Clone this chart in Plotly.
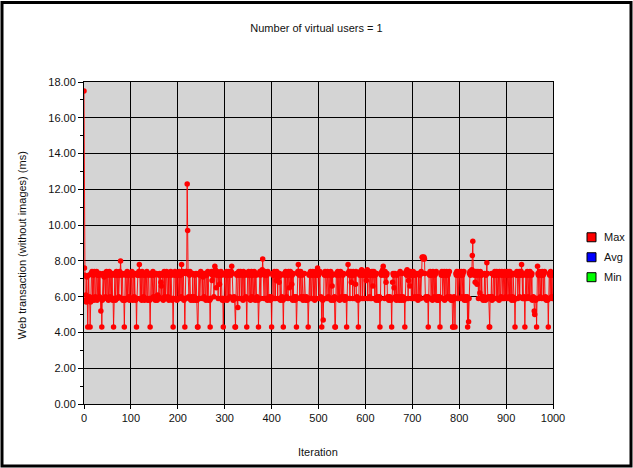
import plotly.graph_objects as go

# Web transaction time per iteration (ms), one virtual user
max_ms = [
    17.5, 7.6, 7.2, 5.8, 6.1, 5.7, 7.1, 5.9, 4.3, 5.8, 7.2, 5.9, 6.0, 4.3, 5.7, 7.3, 7.3, 7.4, 5.9, 7.3, 7.2, 5.8, 7.4, 7.3, 6.0,
    5.9, 7.3, 7.4, 5.8, 7.2, 7.3, 5.9, 7.2, 6.0, 7.3, 5.9, 5.2, 5.9, 4.3, 5.8, 7.2, 7.3, 5.9, 7.1, 7.3, 7.2, 6.0, 7.3, 7.4, 5.9,
    7.3, 7.2, 5.8, 7.3, 7.4, 5.9, 6.0, 7.3, 7.2, 5.9, 7.3, 5.8, 5.9, 4.3, 5.9, 7.2, 7.3, 5.8, 7.3, 7.4, 7.2, 5.9, 7.3, 7.3, 6.0,
    7.2, 7.4, 7.3, 8.0, 7.3, 5.9, 7.2, 7.3, 5.8, 5.9, 5.8, 4.3, 5.8, 7.3, 7.2, 5.9, 7.3, 7.4, 5.9, 7.2, 7.3, 6.0, 5.8, 7.3, 7.2,
    5.9, 7.3, 7.4, 5.9, 5.8, 7.2, 7.3, 6.0, 7.3, 5.9, 5.8, 5.9, 4.3, 5.9, 7.2, 7.3, 7.2, 7.4, 7.8, 7.3, 5.9, 7.2, 7.3, 5.8, 7.4,
    7.3, 5.9, 6.0, 7.2, 5.8, 7.3, 7.2, 5.9, 7.3, 7.4, 5.9, 5.8, 7.3, 7.2, 5.9, 5.8, 4.3, 5.9, 7.3, 7.2, 5.9, 7.3, 7.4, 6.0, 7.2,
    7.3, 5.9, 5.8, 6.0, 7.3, 5.9, 5.8, 6.1, 5.9, 6.0, 7.2, 7.3, 5.9, 7.2, 6.8, 6.6, 5.9, 7.3, 7.2, 5.8, 7.3, 7.4, 6.0, 7.3, 5.9,
    7.2, 7.4, 7.3, 5.9, 6.0, 7.2, 5.8, 7.3, 7.3, 5.9, 7.4, 7.2, 5.9, 5.8, 5.9, 4.3, 5.9, 7.3, 7.2, 7.4, 5.9, 7.3, 7.2, 5.8, 7.3,
    7.3, 5.9, 7.2, 7.4, 5.9, 7.3, 7.2, 6.0, 7.8, 7.3, 5.9, 7.4, 7.3, 5.8, 5.9, 4.3, 5.9, 7.4, 7.3, 7.4, 12.3, 9.7, 7.3, 6.0, 5.9,
    7.2, 7.4, 5.9, 5.8, 5.9, 6.0, 5.9, 7.3, 5.8, 5.9, 6.0, 7.2, 5.9, 5.8, 7.3, 5.9, 5.8, 4.3, 4.3, 5.9, 7.3, 7.2, 5.9, 7.3, 7.4,
    7.3, 7.2, 5.9, 7.3, 7.1, 5.9, 6.0, 7.2, 7.3, 5.9, 5.8, 7.3, 7.2, 5.9, 7.4, 7.3, 5.8, 5.9, 5.8, 4.3, 5.9, 7.3, 7.4, 6.9, 7.2,
    7.3, 7.4, 6.0, 7.3, 7.7, 7.5, 7.3, 6.5, 7.2, 7.4, 7.3, 5.9, 7.3, 7.2, 6.7, 7.3, 5.9, 7.4, 7.2, 5.9, 5.8, 5.9, 4.3, 5.8, 5.9,
    7.3, 7.2, 5.9, 7.3, 7.4, 5.8, 7.3, 7.2, 5.9, 7.4, 7.3, 6.0, 7.3, 7.2, 7.4, 7.7, 7.3, 5.9, 5.8, 5.9, 6.0, 5.9, 4.3, 4.3, 5.9,
    7.3, 7.2, 5.9, 5.4, 7.3, 7.4, 7.2, 5.9, 7.3, 7.4, 7.3, 5.9, 7.2, 7.3, 5.8, 7.4, 7.3, 5.9, 7.2, 5.9, 6.0, 5.9, 4.3, 5.9, 7.3,
    7.2, 7.4, 5.9, 7.3, 7.3, 5.8, 7.2, 7.4, 6.0, 7.3, 7.2, 5.9, 7.3, 7.4, 5.9, 5.8, 7.3, 7.2, 5.9, 6.0, 5.9, 5.8, 4.3, 5.9, 7.3,
    7.4, 7.2, 5.9, 7.3, 7.4, 7.5, 8.1, 7.4, 7.3, 5.9, 7.2, 7.4, 7.3, 5.9, 7.3, 7.2, 5.8, 7.4, 7.3, 5.9, 6.0, 5.9, 5.8, 5.9, 6.0,
    4.3, 5.9, 7.3, 7.2, 7.3, 5.9, 7.4, 7.3, 5.9, 7.2, 6.9, 7.4, 7.3, 5.9, 7.2, 7.1, 6.8, 7.3, 5.9, 5.8, 7.2, 5.9, 6.0, 5.9, 5.8,
    4.3, 5.9, 7.3, 7.2, 5.9, 7.4, 7.3, 6.0, 7.2, 7.3, 5.9, 7.4, 7.2, 6.5, 7.3, 7.4, 5.9, 7.3, 6.7, 7.2, 5.8, 7.3, 5.9, 6.0, 5.9,
    5.8, 5.9, 6.0, 4.3, 5.9, 7.3, 7.4, 7.8, 7.3, 7.2, 5.9, 7.3, 7.4, 6.0, 5.9, 7.2, 5.9, 5.8, 6.0, 5.9, 7.3, 5.9, 5.9, 5.8, 6.0,
    5.9, 5.8, 5.9, 4.3, 5.9, 7.2, 7.3, 5.9, 7.4, 7.3, 5.9, 7.2, 7.3, 7.4, 5.9, 7.3, 7.2, 5.8, 7.3, 7.4, 5.9, 7.2, 7.3, 7.6, 7.3,
    7.2, 5.9, 7.3, 7.4, 5.9, 6.0, 5.9, 4.3, 5.9, 5.8, 4.7, 5.9, 7.3, 7.2, 7.4, 7.3, 5.9, 7.2, 7.3, 7.4, 5.9, 6.0, 7.3, 7.2, 5.9,
    7.3, 7.4, 5.8, 7.3, 6.6, 7.2, 5.9, 5.8, 5.9, 6.0, 4.3, 4.3, 5.9, 7.3, 7.2, 5.9, 7.4, 7.3, 5.9, 7.2, 5.8, 7.3, 7.4, 5.9, 6.0,
    7.3, 5.9, 7.2, 7.3, 5.9, 6.0, 5.8, 5.9, 6.0, 5.9, 4.3, 5.9, 7.3, 7.8, 7.3, 7.4, 7.2, 5.9, 7.3, 7.4, 6.8, 7.2, 7.3, 5.9, 7.4,
    7.3, 7.2, 5.9, 7.3, 6.7, 7.4, 5.9, 6.0, 5.9, 5.8, 4.3, 5.9, 7.3, 7.2, 7.4, 5.9, 7.3, 7.5, 7.2, 5.9, 7.4, 7.3, 7.2, 5.9, 7.3,
    7.4, 7.2, 6.9, 7.3, 7.5, 5.9, 7.3, 7.2, 7.4, 6.0, 5.9, 7.3, 7.2, 5.9, 7.4, 7.3, 6.6, 7.2, 7.4, 7.3, 5.9, 7.2, 7.3, 5.8, 7.3,
    5.9, 6.0, 5.9, 5.8, 5.9, 6.0, 4.3, 5.9, 7.3, 7.2, 7.4, 7.3, 7.5, 7.7, 7.3, 7.2, 5.9, 7.4, 7.3, 6.8, 7.2, 7.3, 5.9, 6.0, 5.9,
    5.8, 5.9, 6.0, 5.9, 5.8, 5.9, 4.3, 5.9, 6.8, 7.3, 7.2, 6.5, 5.9, 7.3, 6.0, 5.9, 5.8, 7.2, 5.9, 6.0, 5.9, 7.3, 5.8, 5.9, 7.4,
    6.0, 5.9, 5.8, 7.3, 5.9, 6.0, 5.9, 5.8, 5.9, 4.3, 5.9, 7.3, 7.4, 7.2, 7.5, 7.3, 5.9, 6.9, 7.3, 7.2, 6.6, 7.4, 7.3, 5.9, 7.2,
    7.3, 5.9, 7.4, 7.2, 5.9, 6.0, 7.3, 7.2, 5.9, 7.3, 6.0, 5.9, 5.8, 7.3, 5.9, 6.0, 7.2, 7.3, 5.9, 7.4, 7.3, 8.2, 8.2, 8.1, 8.2,
    8.2, 8.1, 7.3, 5.9, 6.0, 5.9, 5.8, 5.9, 6.0, 4.3, 5.9, 7.3, 7.2, 7.4, 7.3, 5.9, 7.2, 7.3, 5.8, 7.4, 7.3, 5.9, 6.0, 7.2, 5.9,
    7.3, 7.4, 5.9, 5.8, 6.0, 5.9, 5.8, 5.9, 6.0, 4.3, 5.9, 7.3, 7.2, 7.4, 7.3, 5.9, 7.2, 7.3, 7.4, 5.8, 7.3, 7.2, 5.9, 7.4, 7.3,
    6.0, 7.2, 7.3, 5.9, 7.4, 5.9, 6.0, 5.9, 5.8, 5.9, 5.8, 4.3, 4.3, 5.9, 6.0, 5.9, 4.3, 5.9, 7.3, 7.2, 7.4, 5.9, 7.3, 7.2, 5.9,
    7.3, 7.4, 7.2, 5.9, 7.3, 7.4, 6.0, 7.2, 7.3, 5.9, 7.4, 5.8, 5.9, 6.0, 5.9, 5.8, 5.9, 6.0, 4.3, 5.9, 4.6, 5.9, 7.3, 7.4, 7.2,
    7.4, 7.3, 7.5, 8.3, 9.1, 7.4, 7.3, 7.2, 7.4, 6.8, 7.3, 7.4, 7.2, 6.7, 7.3, 7.4, 5.9, 7.3, 7.2, 6.2, 7.4, 7.3, 5.9, 7.2, 6.0,
    5.9, 5.8, 6.0, 5.9, 7.3, 5.9, 5.8, 7.2, 7.3, 7.9, 7.3, 5.9, 6.0, 5.9, 4.3, 4.3, 5.9, 6.0, 5.9, 7.3, 5.8, 6.0, 5.9, 7.2, 7.3,
    5.9, 7.4, 7.3, 7.2, 5.9, 7.4, 7.3, 5.9, 7.2, 7.3, 5.8, 7.4, 7.3, 5.9, 6.0, 7.2, 7.4, 7.3, 5.9, 7.2, 7.3, 5.9, 7.4, 7.3, 6.0,
    7.2, 5.9, 7.3, 7.4, 5.9, 7.2, 7.3, 6.0, 7.4, 7.3, 5.9, 7.2, 5.8, 5.9, 6.0, 7.3, 5.9, 5.8, 5.9, 4.3, 5.9, 7.3, 7.2, 7.4, 7.3,
    5.9, 7.2, 7.3, 7.4, 6.0, 7.3, 7.2, 7.4, 7.8, 7.3, 5.9, 7.2, 5.9, 6.0, 5.9, 4.3, 5.9, 7.3, 7.2, 5.9, 7.4, 7.3, 6.0, 7.2, 7.3,
    5.9, 7.4, 7.3, 5.9, 7.2, 7.3, 5.8, 5.9, 6.0, 5.9, 5.2, 5.0, 5.9, 5.8, 5.9, 4.3, 5.9, 7.7, 7.3, 7.2, 5.9, 7.4, 7.3, 6.0, 7.2,
    7.3, 5.9, 7.4, 7.3, 7.2, 5.9, 7.3, 7.4, 5.9, 6.0, 5.9, 5.8, 5.9, 5.8, 5.9, 4.3, 5.9, 7.3, 7.2, 5.9, 7.4, 7.3, 6.0, 7.2, 5.9,
]
# With a single virtual user, average and minimum coincide with the maximum,
# so only the Max series is visible; Avg and Min appear in the key.
iterations = list(range(len(max_ms)))

series_names = ["Max", "Avg", "Min"]
series_colors = {"Max": "#FF0000", "Avg": "#0000FF", "Min": "#00FF00"}

y_ticks = [0, 2, 4, 6, 8, 10, 12, 14, 16, 18]
x_ticks = [0, 100, 200, 300, 400, 500, 600, 700, 800, 900, 1000]

FONT = "Liberation Sans, Arial, sans-serif"
TXT = "#111111"

fig = go.Figure()

fig.add_trace(go.Scatter(
    x=iterations, y=max_ms, mode="lines+markers",
    line=dict(color=series_colors["Max"], width=0.9),
    marker=dict(color=series_colors["Max"], size=5.5),
    showlegend=False, name="Max",
))

L, R, T, B = 84, 80, 81.5, 64
W, H = 633, 468
pw, ph = W - L - R, H - T - B


def px_x(p):
    return (p - L) / pw


def px_y(p):
    return (H - B - p) / ph


shapes = [dict(type="rect", xref="paper", yref="paper",
               x0=px_x(2), x1=px_x(631), y0=px_y(466), y1=px_y(2),
               line=dict(color="black", width=3), fillcolor="rgba(0,0,0,0)",
               layer="above")]

annotations = [
    dict(text="Iteration", xref="paper", yref="paper", x=px_x(318), y=px_y(452),
         xanchor="center", yanchor="middle", showarrow=False,
         font=dict(size=11, family=FONT, color=TXT)),
    dict(text="Web transaction (without images) (ms)", xref="paper", yref="paper",
         x=px_x(22), y=px_y(245), xanchor="center", yanchor="middle",
         textangle=-90, showarrow=False,
         font=dict(size=11, family=FONT, color=TXT)),
]

# key on the right: outlined colour boxes with series names
for i, name in enumerate(series_names):
    cy = 237 + 20 * i
    shapes.append(dict(type="rect", xref="paper", yref="paper",
                       x0=px_x(587), x1=px_x(596), y0=px_y(cy + 4.5), y1=px_y(cy - 4.5),
                       line=dict(color="black", width=1),
                       fillcolor=series_colors[name], layer="above"))
    annotations.append(dict(text=name, xref="paper", yref="paper",
                            x=px_x(602), y=px_y(cy), xanchor="left", yanchor="middle",
                            showarrow=False,
                            font=dict(size=11, family=FONT, color=TXT)))

fig.update_layout(
    width=W, height=H,
    margin=dict(l=L, r=R, t=T, b=B, autoexpand=False),
    paper_bgcolor="white", plot_bgcolor="#D4D4D4",
    font=dict(family=FONT, size=11, color=TXT),
    title=dict(text="Number of virtual users = 1", x=0.5, xref="container",
               y=1 - 28 / H, yref="container", yanchor="middle", xanchor="center",
               font=dict(size=11, family=FONT, color=TXT)),
    showlegend=False,
    xaxis=dict(range=[0, 1000], tickvals=x_ticks, ticks="outside", ticklen=4,
               tickcolor="black", showline=True, linecolor="black", linewidth=1,
               mirror=True, showgrid=True, gridcolor="black", gridwidth=1,
               zeroline=False, tickfont=dict(size=11)),
    yaxis=dict(range=[0, 18], tickvals=y_ticks, tickformat=".2f", ticks="outside",
               ticklen=5, tickcolor="black", showline=True, linecolor="black",
               linewidth=1, mirror=True, showgrid=True, gridcolor="black",
               gridwidth=1, zeroline=False, tickfont=dict(size=11),
               minor=dict(dtick=1, ticks="outside", ticklen=3, tickcolor="black",
                          showgrid=False)),
    annotations=annotations,
    shapes=shapes,
)

fig.write_html("out.html")
